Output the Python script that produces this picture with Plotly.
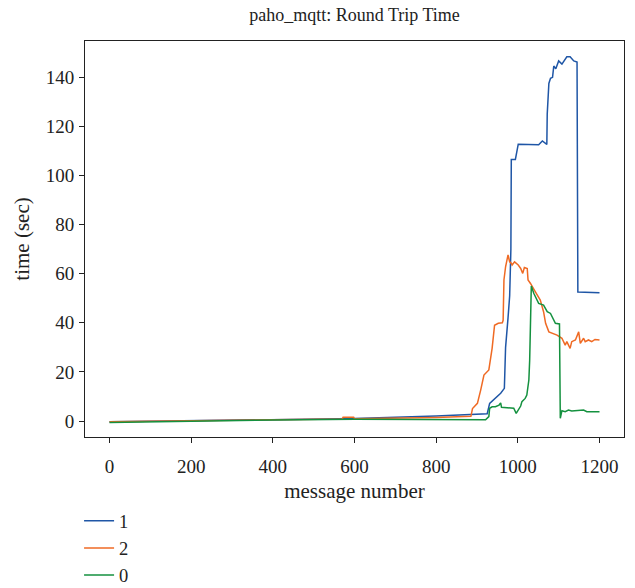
import plotly.graph_objects as go

# Series "1" (blue)
x1 = [0, 200, 400, 600, 800, 880, 920, 925, 931, 945, 958, 967, 970, 976, 980, 983, 984, 994, 1001,
      1051, 1060, 1071, 1072, 1076, 1080, 1085, 1088, 1093, 1100, 1108, 1120, 1128, 1137, 1145, 1147, 1200]
y1 = [-0.3, 0.2, 0.5, 1.0, 2.0, 2.5, 2.8, 3.0, 7.2, 9.2, 11.3, 13.3, 30, 42, 51, 70, 106.5, 106.5, 112.7,
      112.5, 114, 112.6, 125, 137.4, 139.5, 139.9, 144.5, 143.4, 146.6, 145.3, 148.3, 148.3, 146.6, 146.1, 52.5, 52.2]

# Series "2" (orange)
x2 = [0, 200, 400, 570, 572, 598, 600, 800, 885, 889, 901, 909, 917, 929, 933, 937, 943, 952, 962, 964,
      966, 970, 976, 980, 984, 986, 992, 1001, 1007, 1012, 1016, 1023, 1025, 1031, 1043, 1055, 1063, 1068,
      1076, 1088, 1096, 1108, 1116, 1120, 1128, 1132, 1141, 1149, 1153, 1161, 1165, 1173, 1181, 1189, 1200]
y2 = [-0.3, 0.2, 0.5, 0.8, 1.5, 1.5, 0.9, 1.4, 1.9, 5.1, 7.2, 12.6, 18.7, 20.8, 25.5, 29.6, 39, 39.8, 40, 41,
      57.4, 62.8, 67.6, 64.8, 64.2, 63.5, 64.8, 63.5, 62.1, 60.1, 62.5, 62.1, 57.4, 56, 52.6, 49.2, 44.5, 39.8,
      36.3, 35.7, 35, 33.7, 30.9, 32.3, 29.6, 32.3, 33, 36.3, 31.6, 33.7, 32.3, 33, 32.3, 33.2, 33]

# Series "0" (green)
x0 = [0, 200, 400, 600, 800, 921, 929, 931, 937, 945, 954, 958, 960, 978, 990, 996, 1001, 1007, 1010,
      1018, 1022, 1027, 1029, 1031, 1033, 1039, 1051, 1063, 1072, 1080, 1088, 1092, 1102, 1104, 1108, 1116,
      1124, 1132, 1161, 1169, 1200]
y0 = [-0.6, 0, 0.4, 0.7, 0.6, 0.5, 1.8, 5.2, 5.8, 5.8, 6.5, 7.4, 5.6, 5.4, 5.2, 3.1, 4.5, 6.1, 7.9,
      9.2, 10.6, 16.7, 24.8, 45, 55, 52, 47.9, 47.2, 44.5, 43.8, 41.1, 39.8, 39.5, 1.1, 4.2, 3.8,
      4.5, 4.1, 4.5, 3.8, 3.8]

x_ticks = [0, 200, 400, 600, 800, 1000, 1200]
y_ticks = [0, 20, 40, 60, 80, 100, 120, 140]

FONT = "Liberation Serif"

fig = go.Figure()
fig.add_trace(go.Scatter(x=x1, y=y1, name="1", mode="lines", line=dict(color="#1f56a6", width=1.5)))
fig.add_trace(go.Scatter(x=x2, y=y2, name="2", mode="lines", line=dict(color="#ef6a24", width=1.5)))
fig.add_trace(go.Scatter(x=x0, y=y0, name="0", mode="lines", line=dict(color="#14913f", width=1.5)))

axis_common = dict(showline=True, linecolor="#222", linewidth=1, mirror=True, ticks="outside",
                   ticklen=5, tickcolor="#222", showgrid=False, zeroline=False,
                   tickfont=dict(family=FONT, size=19, color="#222"))

fig.update_layout(
    width=635, height=588,
    margin=dict(l=85, r=11, t=41, b=151, autoexpand=False),
    paper_bgcolor="white", plot_bgcolor="white",
    font=dict(family=FONT, size=19, color="#222"),
    title=dict(text="paho_mqtt: Round Trip Time", x=0.5, xanchor="center", y=0.975, yanchor="middle",
               xref="paper", font=dict(family=FONT, size=18, color="#222")),
    xaxis=dict(range=[-60, 1260], tickvals=x_ticks, ticklabelstandoff=7,
               title=dict(text="message number", standoff=7, font=dict(family=FONT, size=21)),
               **axis_common),
    yaxis=dict(range=[-6.5, 154.7], tickvals=y_ticks, ticklabelstandoff=1,
               title=dict(text="time (sec)", standoff=10, font=dict(family=FONT, size=21)),
               **axis_common),
    legend=dict(x=-0.011, xanchor="left", y=-0.165, yanchor="top",
                orientation="v", font=dict(family=FONT, size=18.5, color="#222"),
                bgcolor="rgba(0,0,0,0)"),
    showlegend=True,
)

fig.write_html("out.html")
